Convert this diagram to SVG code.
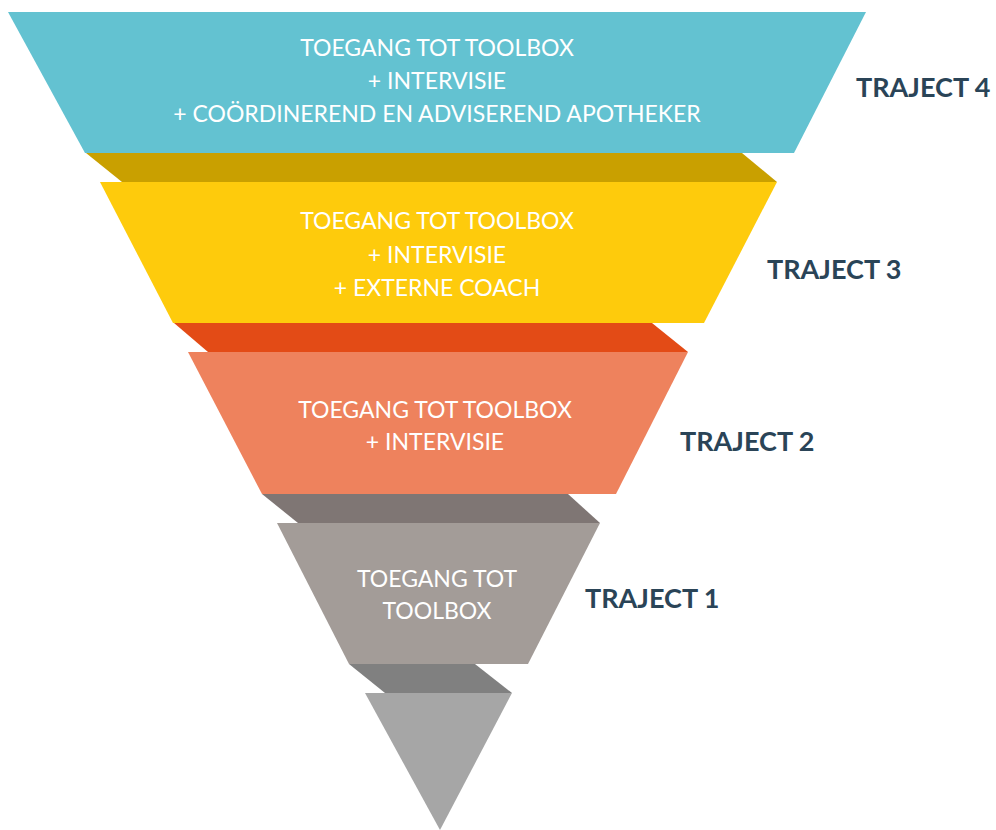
<svg xmlns="http://www.w3.org/2000/svg" width="996" height="830" viewBox="0 0 996 830">
  <style>
    .lbl { font-family: Lato, "Open Sans", "Liberation Sans", sans-serif; font-size: 23px; fill: #ffffff; text-anchor: middle; dominant-baseline: central; }
    .trj { font-family: Lato, "Open Sans", "Liberation Sans", sans-serif; font-size: 27px; font-weight: bold; fill: #2a4457; dominant-baseline: central; }
  </style>
  <rect width="996" height="830" fill="#ffffff"/>

  <!-- folded bands behind the tiers -->
  <g id="bands">
    <polygon points="86,153 742,153 777,182 122,182" fill="#c9a000"/>
    <polygon points="174,323 652,323 688,352 208,352" fill="#e34b16"/>
    <polygon points="262,494 568,494 600,523 298,523" fill="#7f7674"/>
    <polygon points="349,664 475,664 512,693 385,693" fill="#808080"/>
  </g>

  <g id="tier4">
    <polygon points="8,12 866,12 794,153 85,153" fill="#63c2d1"/>
    <text class="lbl" x="437" y="47">TOEGANG TOT TOOLBOX</text>
    <text class="lbl" x="437" y="80">+ INTERVISIE</text>
    <text class="lbl" x="437" y="113">+ COÖRDINEREND EN ADVISEREND APOTHEKER</text>
  </g>

  <g id="tier3">
    <polygon points="100,182 777,182 704,323 173,323" fill="#fecb0c"/>
    <text class="lbl" x="437" y="220">TOEGANG TOT TOOLBOX</text>
    <text class="lbl" x="437" y="254">+ INTERVISIE</text>
    <text class="lbl" x="437" y="287">+ EXTERNE COACH</text>
  </g>

  <g id="tier2">
    <polygon points="188,352 688,352 616,494 262,494" fill="#ee825d"/>
    <text class="lbl" x="435" y="409">TOEGANG TOT TOOLBOX</text>
    <text class="lbl" x="435" y="441">+ INTERVISIE</text>
  </g>

  <g id="tier1">
    <polygon points="277,523 600,523 528,664 349,664" fill="#a39c98"/>
    <text class="lbl" x="437" y="578">TOEGANG TOT</text>
    <text class="lbl" x="437" y="610">TOOLBOX</text>
  </g>

  <g id="tip">
    <polygon points="365,693 512,693 440,830" fill="#a6a6a6"/>
  </g>

  <g id="labels">
    <text class="trj" x="856" y="86">TRAJECT 4</text>
    <text class="trj" x="767" y="268">TRAJECT 3</text>
    <text class="trj" x="680" y="440">TRAJECT 2</text>
    <text class="trj" x="585" y="597">TRAJECT 1</text>
  </g>
</svg>
